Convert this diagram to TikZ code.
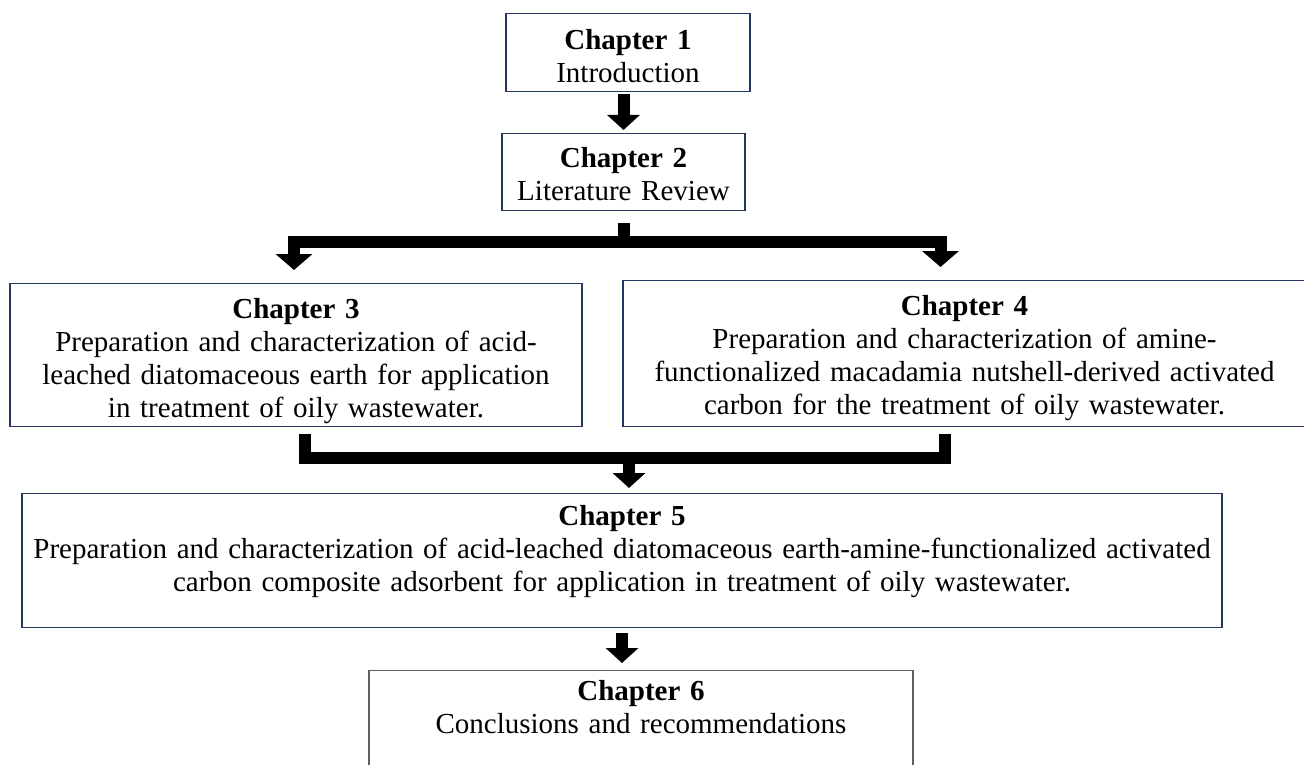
\documentclass[tikz,border=0pt]{standalone}
\usepackage{fontspec}
\setmainfont{Liberation Serif}
\usetikzlibrary{arrows.meta}
\definecolor{boxnavy}{RGB}{38,56,96}
\definecolor{boxgrey}{RGB}{96,96,96}

\begin{document}
\begin{tikzpicture}[x=1pt, y=-1pt,
    chapbox/.style={draw=boxnavy, line width=1.4pt, anchor=north, align=center,
        inner sep=0pt, font=\fontsize{29}{33}\selectfont},
    fork/.style={line width=12pt, line join=miter},
    blockarrow/.style={fork, -{Triangle[width=32pt, length=15pt]}},
    splitarrow/.style={fork, -{Triangle[width=36pt, length=16pt]}}]
  \useasboundingbox (0,0) rectangle (1304,765);
  % chapters, placed by their top edge
  \node[chapbox, text width=244pt, text height=36pt, text depth=42pt] (ch1) at (628,13)
    {\textbf{Chapter 1}\\Introduction};
  \node[chapbox, text width=243pt, text height=34pt, text depth=43pt] (ch2) at (623.5,133)
    {\textbf{Chapter 2}\\Literature Review};
  \node[chapbox, text width=572pt, text height=35pt, text depth=108pt] (ch3) at (296,283)
    {\textbf{Chapter 3}\\Preparation and characterization of acid-\\leached diatomaceous earth for application\\in treatment of oily wastewater.};
  \node[chapbox, text width=683pt, text height=35pt, text depth=111pt] (ch4) at (964.5,280)
    {\textbf{Chapter 4}\\Preparation and characterization of amine-\\functionalized macadamia nutshell-derived activated\\carbon for the treatment of oily wastewater.};
  \node[chapbox, text width=1200pt, text height=32pt, text depth=102pt] (ch5) at (622,493)
    {\textbf{Chapter 5}\\Preparation and characterization of acid-leached diatomaceous earth-amine-functionalized activated\\carbon composite adsorbent for application in treatment of oily wastewater.};
  \node[chapbox, draw=boxgrey, text width=544pt, text height=30pt, text depth=90pt] (ch6) at (641,670)
    {\textbf{Chapter 6}\\Conclusions and recommendations};

  \coordinate (split) at (621,242);
  \coordinate (merge) at (629,458);

  \draw[blockarrow, shorten <=2pt, shorten >=3pt] (ch1.south -| ch2.north) -- (ch2.north);
  \draw[splitarrow, shorten <=12pt, shorten >=13pt] (ch2.south) -- (ch2.south |- split) -| ([xshift=-2pt]ch3.north);
  \draw[splitarrow, shorten <=12pt, shorten >=13pt] (ch2.south) -- (ch2.south |- split) -| ([xshift=-24pt]ch4.north);
  \draw[fork, shorten <=7pt, shorten >=7pt] ([xshift=9pt]ch3.south) |- (merge) -| ([xshift=-20pt]ch4.south);
  \draw[blockarrow, shorten >=5pt] (merge) -- (merge |- ch5.north);
  \draw[blockarrow, shorten <=5pt, shorten >=7pt] (ch5.south) -- (ch5.south |- ch6.north);
\end{tikzpicture}
\end{document}
